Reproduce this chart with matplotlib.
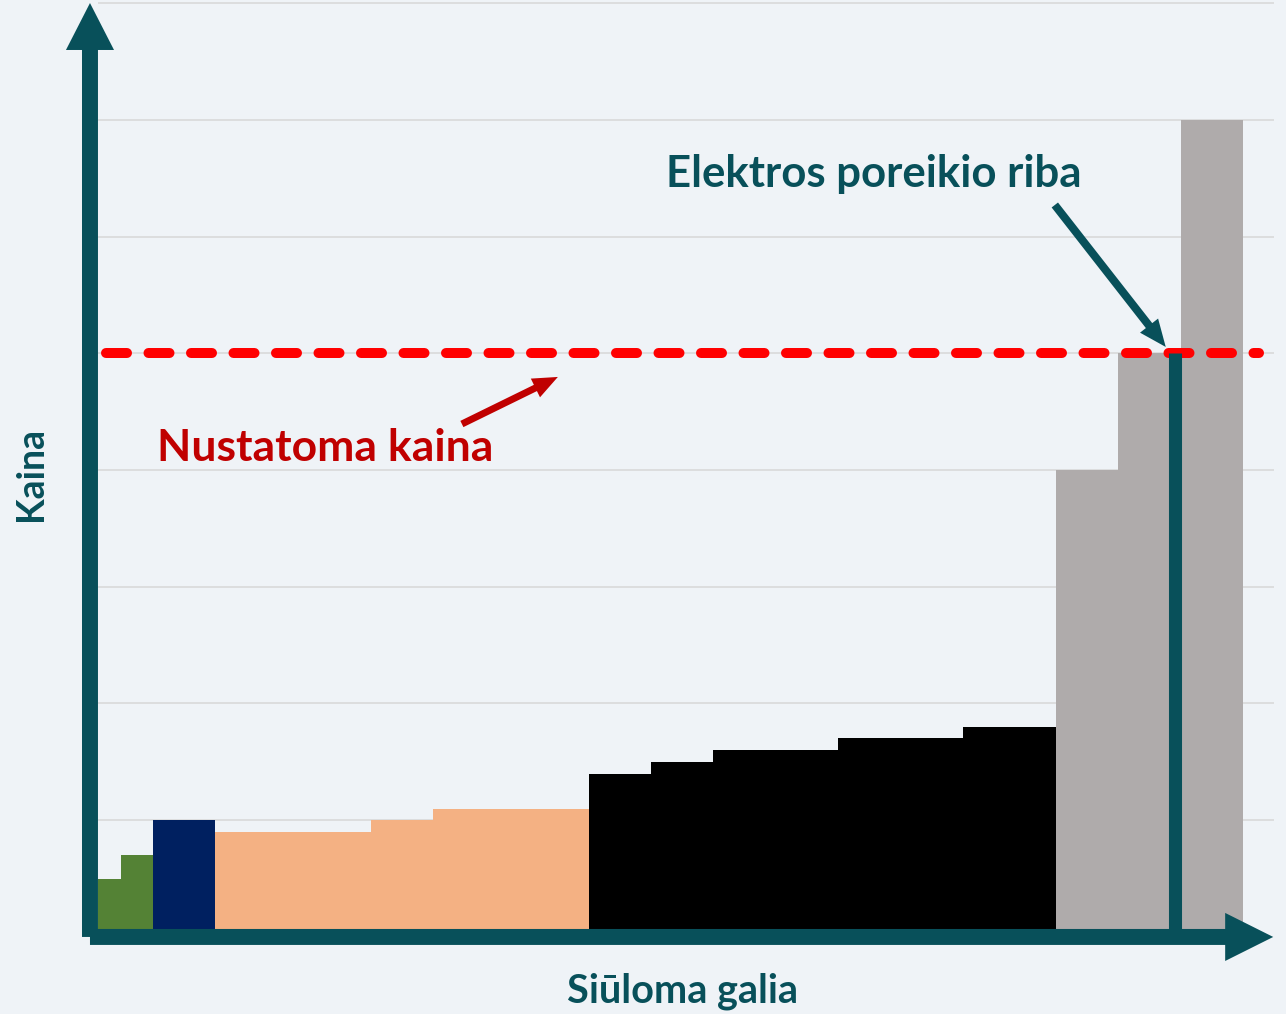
import matplotlib
matplotlib.use("Agg")
import matplotlib.pyplot as plt
from matplotlib.patches import FancyArrowPatch

# Pasiūlos kreivė (merit order): blokų plotis ir kaina
widths = [0.75, 1, 2, 5, 2, 5, 2, 2, 4, 4, 3, 2, 2, 2]
prices = [0.5, 0.7, 1.0, 0.9, 1.0, 1.1, 1.4, 1.5, 1.6, 1.7, 1.8, 4.0, 5.0, 7.0]
colors = ["#548235", "#548235", "#002060",
          "#f4b183", "#f4b183", "#f4b183",
          "#000000", "#000000", "#000000", "#000000", "#000000",
          "#afabab", "#afabab", "#afabab"]
grid_levels = [1, 2, 3, 4, 5, 6, 7, 8]
clearing_price = 5.0
demand = 34.56

TEAL = "#08505a"
BG = "#eff3f7"
FONT = ["Lato", "DejaVu Sans"]

fig = plt.figure(figsize=(12.86, 10.14), dpi=100, facecolor=BG)
ax = fig.add_axes([0, 0, 1, 1])
ax.set_facecolor(BG)
ax.set_xlim(-3.145, 38.13)
ax.set_ylim(-0.66, 8.026)
ax.axis("off")

# tinklelis
ax.hlines(grid_levels, 0, 37.74, color="#d9d9d9", lw=1.2, zorder=1)

# blokai
lefts = [sum(widths[:i]) for i in range(len(widths))]
ax.bar(lefts, prices, width=widths, align="edge", color=colors, lw=0, zorder=2)

# nustatoma kaina
ax.plot([0.257, 37.26], [clearing_price, clearing_price], color="#ff0000", lw=7.2,
        dashes=(2.1, 2.15), dash_capstyle="round", zorder=4)
# paklausos riba
ax.vlines(demand, 0, clearing_price, color=TEAL, lw=9.4, zorder=5)

# ašys su rodyklėmis
def arrow(p0, p1, color, tail, head_w, head_l, z=6):
    ax.add_patch(FancyArrowPatch(p0, p1, arrowstyle=f"simple,tail_width={tail},head_width={head_w},head_length={head_l}",
                                 mutation_scale=1, shrinkA=0, shrinkB=0, color=color, lw=0, zorder=z))

arrow((-0.257, 0.0), (-0.257, 8.0), TEAL, 11.5, 34.6, 33.8)
arrow((-0.257, 0.0), (37.72, 0.0), TEAL, 11.5, 34.6, 34.6)

arrow((30.71, 6.27), (34.27, 5.054), TEAL, 5.8, 16.5, 19.5)
arrow((11.68, 4.394), (14.76, 4.797), "#c00000", 5.0, 15.0, 18.0)

ax.text(24.9, 6.424, "Elektros poreikio riba", color=TEAL, fontsize=31.5, fontweight="bold",
        family=FONT, ha="center", va="baseline")
ax.text(7.285, 4.077, "Nustatoma kaina", color="#c00000", fontsize=32, fontweight="bold",
        family=FONT, ha="center", va="baseline")
ax.text(-2.15, 3.966, "Kaina", color=TEAL, fontsize=27, fontweight="bold",
        family=FONT, ha="center", va="center", rotation=90)
ax.text(18.77, -0.565, "Siūloma galia", color=TEAL, fontsize=28.5, fontweight="bold",
        family=FONT, ha="center", va="baseline")

fig.savefig("out.png", dpi=100, facecolor=BG)
